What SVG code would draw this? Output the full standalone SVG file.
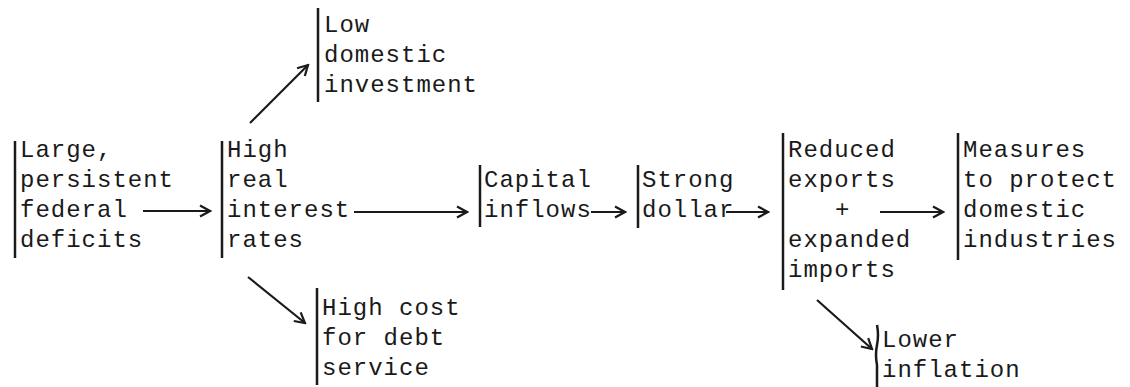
<svg xmlns="http://www.w3.org/2000/svg" width="1130" height="387" viewBox="0 0 1130 387">
<style>
text{font-family:"Liberation Mono","DejaVu Sans Mono",monospace;font-size:24px;letter-spacing:1px;fill:#1a1a1a}
.bar{stroke:#1a1a1a;stroke-width:2.5;fill:none}
.c{stroke:#1a1a1a;stroke-width:2.2;fill:none}
</style>
<defs>
<marker id="ah" markerUnits="userSpaceOnUse" markerWidth="14" markerHeight="14" viewBox="0 0 14 14" refX="12" refY="7" orient="auto">
<path d="M2,1.5 L12,7 L2,12.5" fill="none" stroke="#1a1a1a" stroke-width="2.2"/>
</marker>
</defs>
<rect width="1130" height="387" fill="#ffffff"/>
<g id="n-deficits">
<line class="bar" x1="15" y1="141" x2="15" y2="258"/>
<text x="20" y="157">Large,</text>
<text x="20" y="187">persistent</text>
<text x="20" y="217">federal</text>
<text x="20" y="247">deficits</text>
</g>
<g id="n-rates">
<line class="bar" x1="222" y1="141" x2="222" y2="258"/>
<text x="227" y="157">High</text>
<text x="227" y="187">real</text>
<text x="227" y="217">interest</text>
<text x="227" y="247">rates</text>
</g>
<g id="n-investment">
<line class="bar" x1="318" y1="8" x2="318" y2="102"/>
<text x="324" y="32">Low</text>
<text x="324" y="62">domestic</text>
<text x="324" y="92">investment</text>
</g>
<g id="n-debt">
<line class="bar" x1="317" y1="288" x2="317" y2="385"/>
<text x="322" y="315">High cost</text>
<text x="322" y="345">for debt</text>
<text x="322" y="375">service</text>
</g>
<g id="n-capital">
<line class="bar" x1="480" y1="165" x2="480" y2="227"/>
<text x="484" y="187">Capital</text>
<text x="484" y="217">inflows</text>
</g>
<g id="n-dollar">
<line class="bar" x1="638" y1="165" x2="638" y2="228"/>
<text x="642" y="187">Strong</text>
<text x="642" y="217">dollar</text>
</g>
<g id="n-trade">
<line class="bar" x1="783" y1="133" x2="783" y2="290"/>
<text x="788" y="157">Reduced</text>
<text x="788" y="187">exports</text>
<text x="835" y="217">+</text>
<text x="788" y="247">expanded</text>
<text x="788" y="277">imports</text>
</g>
<g id="n-measures">
<line class="bar" x1="958" y1="133" x2="958" y2="260"/>
<text x="963" y="157">Measures</text>
<text x="963" y="187">to protect</text>
<text x="963" y="217">domestic</text>
<text x="963" y="247">industries</text>
</g>
<g id="n-inflation">
<path class="bar" d="M877,325 Q879,335 877,345 Q875,355 877,365 L877,387"/>
<text x="882" y="347">Lower</text>
<text x="882" y="377">inflation</text>
</g>
<g id="connectors">
<line class="c" x1="143" y1="211" x2="210" y2="211" marker-end="url(#ah)"/>
<line class="c" x1="354" y1="212" x2="467" y2="212" marker-end="url(#ah)"/>
<line class="c" x1="591" y1="212" x2="625" y2="212" marker-end="url(#ah)"/>
<line class="c" x1="726" y1="212" x2="768" y2="212" marker-end="url(#ah)"/>
<line class="c" x1="880" y1="212" x2="943" y2="212" marker-end="url(#ah)"/>
<line class="c" x1="250" y1="123" x2="308" y2="65" marker-end="url(#ah)"/>
<line class="c" x1="248" y1="277" x2="305" y2="323" marker-end="url(#ah)"/>
<line class="c" x1="817" y1="300" x2="872" y2="349" marker-end="url(#ah)"/>
</g>
</svg>
